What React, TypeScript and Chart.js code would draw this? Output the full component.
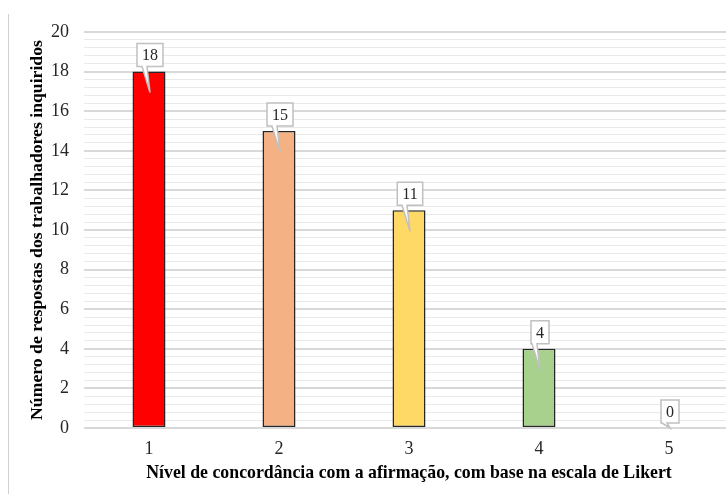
import React, { useEffect, useRef } from "react";
import { Chart, registerables } from "chart.js";

Chart.register(...registerables);

const categories = ["1", "2", "3", "4", "5"];
const responses = [18, 15, 11, 4, 0];
const barColors = ["#FF0000", "#F4B183", "#FFD966", "#A9D18E", "#9DC3E6"];
const yTickValues = [0, 2, 4, 6, 8, 10, 12, 14, 16, 18, 20];
const xTitle = "Nível de concordância com a afirmação, com base na escala de Likert";
const yTitle = "Número de respostas dos trabalhadores inquiridos";

const FONT = "'Liberation Serif', 'Times New Roman', serif";

const isMajor = (v: number) => Math.abs(v / 2 - Math.round(v / 2)) < 1e-6;

const calloutPlugin = {
  id: "callouts",
  beforeDraw(chart: any) {
    const ctx = chart.ctx;
    ctx.save();
    ctx.strokeStyle = "#d0d0d0";
    ctx.lineWidth = 1;
    ctx.beginPath();
    ctx.moveTo(8.5, 14);
    ctx.lineTo(8.5, chart.height);
    ctx.stroke();
    ctx.restore();
  },
  afterDatasetsDraw(chart: any) {
    const ctx = chart.ctx;
    const meta = chart.getDatasetMeta(0);
    const bottom = chart.chartArea.bottom;
    ctx.save();
    ctx.font = `16px ${FONT}`;
    meta.data.forEach((el: any, i: number) => {
      const text = String(responses[i]);
      const x = el.x;
      const yTop = el.y;
      const tw = ctx.measureText(text).width;
      const bw = tw + 10;
      const bh = 23;
      const bx = x + 1 - bw / 2;
      const by = yTop - 5 - bh;
      const tipY = Math.min(yTop + 21, bottom);
      ctx.beginPath();
      ctx.moveTo(bx, by);
      ctx.lineTo(bx + bw, by);
      ctx.lineTo(bx + bw, by + bh);
      ctx.lineTo(x - 2, by + bh);
      ctx.lineTo(x + 1, tipY);
      ctx.lineTo(x - 7, by + bh);
      ctx.lineTo(bx, by + bh);
      ctx.closePath();
      ctx.fillStyle = "#ffffff";
      ctx.fill();
      ctx.strokeStyle = "#c0c0c0";
      ctx.lineWidth = 1.5;
      ctx.stroke();
      ctx.fillStyle = "#262626";
      ctx.textAlign = "center";
      ctx.textBaseline = "middle";
      ctx.fillText(text, bx + bw / 2, by + bh / 2 + 1);
    });
    ctx.restore();
  },
};

export default function App() {
  const ref = useRef<HTMLCanvasElement | null>(null);
  useEffect(() => {
    if (!ref.current) return;
    const chart = new Chart(ref.current, {
      type: "bar",
      data: {
        labels: categories,
        datasets: [
          {
            data: responses,
            backgroundColor: barColors,
            borderColor: "#262626",
            borderWidth: 1.5,
            borderSkipped: false,
            barPercentage: 0.254,
            categoryPercentage: 1,
          },
        ],
      },
      options: {
        responsive: false,
        animation: false,
        devicePixelRatio: 1,
        layout: { padding: { top: 32, right: 6, left: 0, bottom: 0 } },
        plugins: { legend: { display: false }, tooltip: { enabled: false } },
        scales: {
          x: {
            grid: { display: false, drawTicks: false },
            border: { display: false },
            ticks: { color: "#262626", font: { family: FONT, size: 18 }, padding: 10 },
            title: {
              display: true,
              text: xTitle,
              color: "#000000",
              font: { family: FONT, size: 17.8, weight: "bold" },
              padding: { top: 0, bottom: 10 },
            },
            afterFit: (scale: any) => {
              scale.height = 66;
            },
          },
          y: {
            min: 0,
            max: 20,
            ticks: {
              stepSize: 0.4,
              autoSkip: false,
              padding: 15,
              color: "#262626",
              font: { family: FONT, size: 18 },
              callback: (v: any) => {
                const n = Number(v);
                if (!isMajor(n)) return "";
                const r = Math.round(n);
                return yTickValues.includes(r) ? String(r) : "";
              },
            },
            grid: {
              drawTicks: false,
              color: (c: any) => (isMajor(c.tick.value) ? "#d9d9d9" : "#e9e9e9"),
              lineWidth: (c: any) => (isMajor(c.tick.value) ? 2 : 1),
            },
            border: { display: false },
            title: {
              display: true,
              text: yTitle,
              color: "#000000",
              font: { family: FONT, size: 17.7, weight: "bold" },
              padding: { top: 27, bottom: 0 },
            },
            afterFit: (scale: any) => {
              scale.width = 84;
            },
          },
        },
      },
      plugins: [calloutPlugin],
    });
    return () => chart.destroy();
  }, []);
  return (
    <div
      style={{
        position: "absolute",
        left: 0,
        top: 0,
        width: 726,
        height: 494,
        overflow: "hidden",
        background: "#ffffff",
      }}
    >
      <canvas ref={ref} width={740} height={494} style={{ display: "block" }} />
    </div>
  );
}
